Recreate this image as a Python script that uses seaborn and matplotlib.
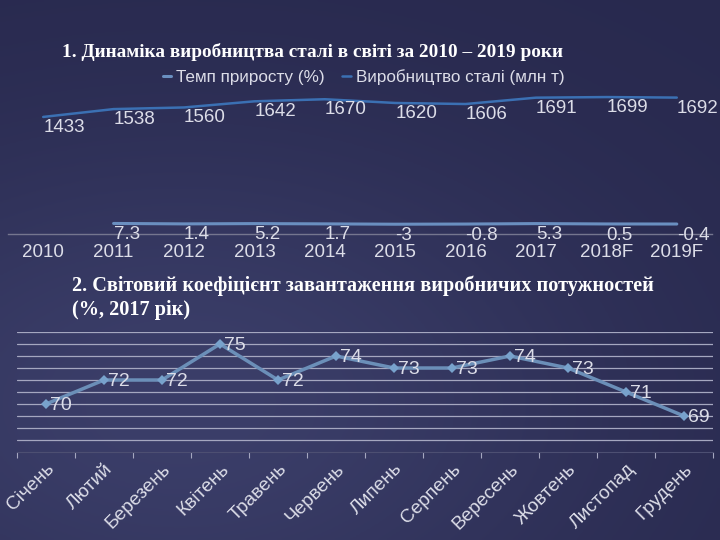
import numpy as np
import pandas as pd
import matplotlib
matplotlib.use("Agg")
import matplotlib.pyplot as plt
import seaborn as sns

# Chart 1: world steel production and growth rate
YEARS = ["2010", "2011", "2012", "2013", "2014", "2015",
         "2016", "2017", "2018F", "2019F"]
PRODUCTION = [1433, 1538, 1560, 1642, 1670, 1620, 1606, 1691, 1699, 1692]
GROWTH_YEARS = YEARS[1:]
GROWTH = [7.3, 1.4, 5.2, 1.7, -3, -0.8, 5.3, 0.5, -0.4]

# Chart 2: capacity utilisation by month, 2017
MONTHS = ["Січень", "Лютий", "Березень", "Квітень", "Травень", "Червень",
          "Липень", "Серпень", "Вересень", "Жовтень", "Листопад", "Грудень"]
LOAD = [70, 72, 72, 75, 72, 74, 73, 73, 74, 73, 71, 69]

TITLE_1 = "1. Динаміка виробництва сталі в світі за 2010 – 2019 роки"
TITLE_2 = "2. Світовий коефіцієнт завантаження виробничих потужностей\n(%, 2017 рік)"
LABEL_GROWTH = "Темп приросту (%)"
LABEL_PROD = "Виробництво сталі (млн т)"

sns.set_theme(style="white")
plt.rcParams["font.family"] = ["Liberation Sans", "DejaVu Sans"]
SERIF = ["Liberation Serif", "DejaVu Serif"]

TEXT = "#dcdde8"
PROD_COLOR = "#3b70b3"
GROWTH_COLOR = "#6a8fc0"
LOAD_COLOR = "#6b8fb8"

fig = plt.figure(figsize=(7.2, 5.4), dpi=100)

# slide background: dark navy with a soft lighter patch
bg = fig.add_axes([0, 0, 1, 1], zorder=-10)
yy, xx = np.mgrid[0:1:200j, 0:1:200j]
glow = np.exp(-(((xx - 0.25) / 0.6) ** 2 + ((yy - 0.75) / 0.5) ** 2))
base = np.array([0x28, 0x29, 0x4e]) / 255
light = np.array([0x3b, 0x3e, 0x69]) / 255
img = base + (light - base) * glow[..., None]
bg.imshow(img, aspect="auto", extent=[0, 1, 0, 1], origin="upper")
bg.set_axis_off()

# ---- top chart ----
W, H = 720, 540
ax1 = fig.add_axes([8 / W, 1 - 234 / H, 704 / W, 145 / H])
ax1.patch.set_alpha(0)
prod_df = pd.DataFrame({"year": YEARS, "value": PRODUCTION})
growth_df = pd.DataFrame({"year": GROWTH_YEARS, "value": GROWTH})
sns.lineplot(data=prod_df, x="year", y="value", color=PROD_COLOR,
             linewidth=1.8, ax=ax1, label=LABEL_PROD, sort=False)
sns.lineplot(data=growth_df, x="year", y="value", color=GROWTH_COLOR,
             linewidth=2.2, ax=ax1, label=LABEL_GROWTH, sort=False)
ax1.set_ylim(-134, 1807)
ax1.set_xlim(-0.5, len(YEARS) - 0.5)
for i, v in enumerate(PRODUCTION):
    ax1.annotate(f"{v}", (i, v), xytext=(0, -7.5), textcoords="offset points",
                 ha="left", va="center", color=TEXT, fontsize=13.5)
for i, v in enumerate(GROWTH):
    ax1.annotate(f"{v:g}", (i + 1, v), xytext=(0, -8), textcoords="offset points",
                 ha="left", va="center", color=TEXT, fontsize=13.5)
ax1.set_xlabel("")
ax1.set_ylabel("")
ax1.set_yticks([])
ax1.tick_params(axis="x", length=0, pad=7, colors=TEXT, labelsize=13.5)
for side in ["top", "left", "right"]:
    ax1.spines[side].set_visible(False)
ax1.spines["bottom"].set_color("#75768f")
ax1.spines["bottom"].set_linewidth(1)

handles, labels = ax1.get_legend_handles_labels()
ax1.legend(handles[::-1], labels[::-1], ncol=2, frameon=False,
           loc="center", bbox_to_anchor=(0.505, (234 - 77) / 145),
           handlelength=0.5, handletextpad=0.3, columnspacing=1.0,
           fontsize=12.3, labelcolor=TEXT)

fig.text(62 / W, 1 - 52 / H, TITLE_1, family=SERIF,
         fontweight="bold", fontsize=13.9, color="white", ha="left", va="center")

# ---- bottom chart ----
ax2 = fig.add_axes([17 / W, 1 - 452 / H, 696 / W, 120 / H])
ax2.patch.set_alpha(0)
load_df = pd.DataFrame({"month": MONTHS, "value": LOAD})
sns.lineplot(data=load_df, x="month", y="value", color=LOAD_COLOR,
             linewidth=2.5, marker="D", markersize=5, markeredgewidth=0,
             markerfacecolor="#78a2cc", ax=ax2, sort=False)
ax2.set_ylim(66, 76)
ax2.set_xlim(-0.5, len(MONTHS) - 0.5)
ax2.set_yticks(range(67, 77))
ax2.yaxis.grid(True, color="#a5a7c0", linewidth=0.9)
ax2.set_axisbelow(True)
ax2.tick_params(axis="y", length=0, labelleft=False)
for i, v in enumerate(LOAD):
    ax2.annotate(f"{v}", (i, v), xytext=(3, -1), textcoords="offset points",
                 ha="left", va="center", color=TEXT, fontsize=14)
ax2.set_xticks(range(len(MONTHS)))
ax2.set_xticklabels(MONTHS, rotation=45, ha="right", rotation_mode="anchor")
ax2.set_xticks(np.arange(-0.5, len(MONTHS), 1), minor=True)
ax2.tick_params(axis="x", which="major", length=0, pad=6, colors=TEXT,
                labelsize=13.8)
ax2.tick_params(axis="x", which="minor", length=4, width=0.8, color="#a5a7c0",
                direction="out", bottom=True)
ax2.set_xlabel("")
ax2.set_ylabel("")
for side in ["top", "left", "right"]:
    ax2.spines[side].set_visible(False)
ax2.spines["bottom"].set_color("#4d4f72")
ax2.spines["bottom"].set_linewidth(0.8)

fig.text(72 / W, 1 - 298 / H, TITLE_2, family=SERIF,
         fontweight="bold", fontsize=14.6, color="white", ha="left", va="center",
         linespacing=1.3)

fig.savefig("out.png", dpi=100)
